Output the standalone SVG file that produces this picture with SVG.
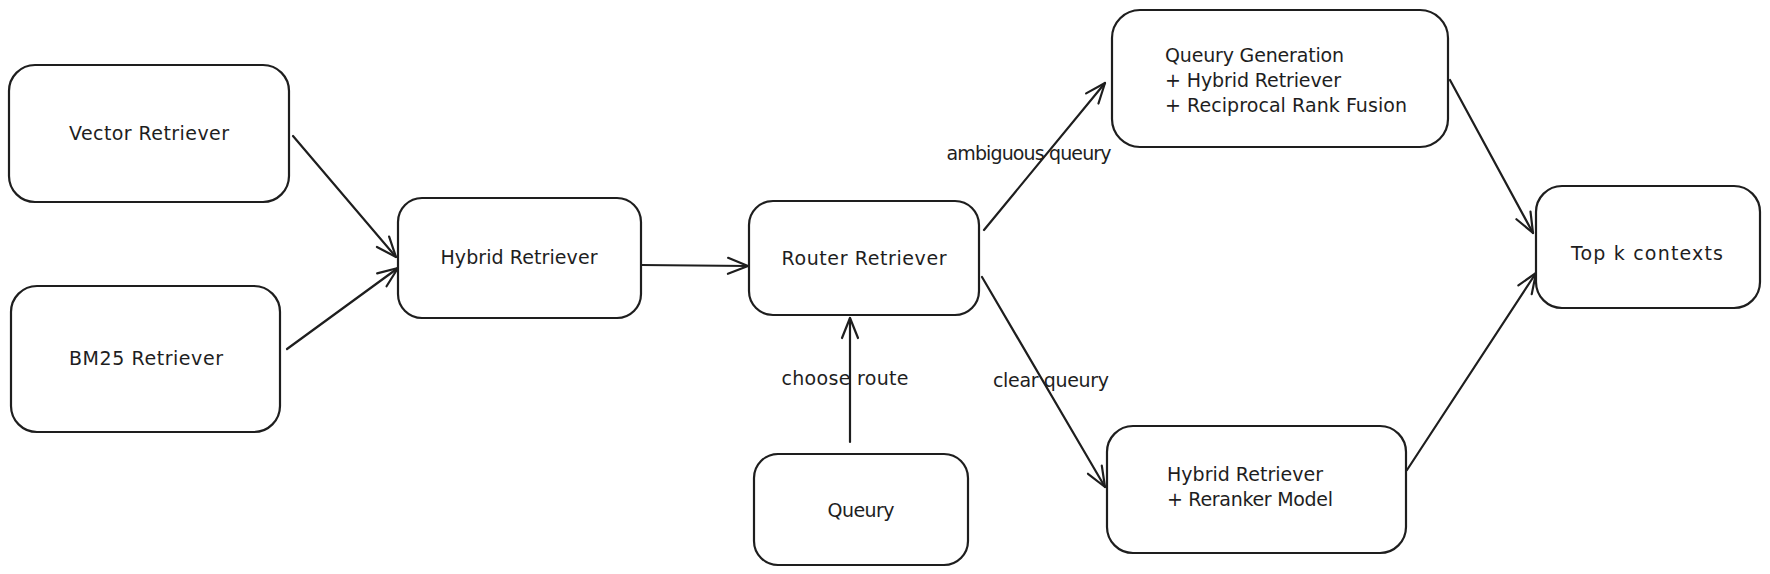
<svg xmlns="http://www.w3.org/2000/svg" width="1770" height="574" viewBox="0 0 1770 574">
<style>
.box{fill:#ffffff;stroke:#1e1e1e;stroke-width:2.2}
.t{font-family:"DejaVu Sans","Liberation Sans",sans-serif;font-size:19px;fill:#1e1e1e;dominant-baseline:central}
.c{text-anchor:middle}
.e{fill:none;stroke:#1e1e1e;stroke-width:2.2;stroke-linecap:round;marker-end:url(#ah)}
</style>
<defs>
<marker id="ah" markerUnits="userSpaceOnUse" markerWidth="30" markerHeight="30" viewBox="-25 -15 30 30" refX="0" refY="0" orient="auto">
<path d="M -20 -8 L 0 0 L -20 8" fill="none" stroke="#1e1e1e" stroke-width="2.2" stroke-linecap="round" stroke-linejoin="round"/>
</marker>
</defs>
<rect width="1770" height="574" fill="#ffffff"/>
<g id="connectors">
<path class="e" d="M 293 136 L 396 257"/>
<path class="e" d="M 287 349 L 398 268"/>
<path class="e" d="M 641 265 L 748 266"/>
<path class="e" d="M 850 442 L 850 318"/>
<path class="e" d="M 984 230 L 1105 83"/>
<path class="e" d="M 982 277 L 1105 487"/>
<path class="e" d="M 1450 80 L 1533 233"/>
<path class="e" d="M 1407 470 L 1536 273"/>
<text class="t c" x="1029" y="153" textLength="165">ambiguous queury</text>
<text class="t c" x="845" y="378" textLength="127">choose route</text>
<text class="t c" x="1051" y="380" textLength="116">clear queury</text>
</g>
<g id="vector">
<rect class="box" x="9" y="65" width="280" height="137" rx="26"/>
<text class="t c" x="149" y="133" textLength="160">Vector Retriever</text>
</g>
<g id="bm25">
<rect class="box" x="11" y="286" width="269" height="146" rx="26"/>
<text class="t c" x="146" y="358" textLength="154">BM25 Retriever</text>
</g>
<g id="hybrid">
<rect class="box" x="398" y="198" width="243" height="120" rx="24"/>
<text class="t c" x="519" y="257" textLength="157">Hybrid Retriever</text>
</g>
<g id="router">
<rect class="box" x="749" y="201" width="230" height="114" rx="24"/>
<text class="t c" x="864" y="258" textLength="165">Router Retriever</text>
</g>
<g id="queury">
<rect class="box" x="754" y="454" width="214" height="111" rx="24"/>
<text class="t c" x="861" y="510" textLength="67">Queury</text>
</g>
<g id="querygen">
<rect class="box" x="1112" y="10" width="336" height="137" rx="28"/>
<text class="t" x="1165" y="55" textLength="179">Queury Generation</text>
<text class="t" x="1165" y="80" textLength="176">+ Hybrid Retriever</text>
<text class="t" x="1165" y="105" textLength="242">+ Reciprocal Rank Fusion</text>
</g>
<g id="reranker">
<rect class="box" x="1107" y="426" width="299" height="127" rx="26"/>
<text class="t" x="1167" y="474" textLength="156">Hybrid Retriever</text>
<text class="t" x="1167" y="499" textLength="166">+ Reranker Model</text>
</g>
<g id="topk">
<rect class="box" x="1536" y="186" width="224" height="122" rx="26"/>
<text class="t c" x="1647" y="253" textLength="152">Top k contexts</text>
</g>
</svg>
